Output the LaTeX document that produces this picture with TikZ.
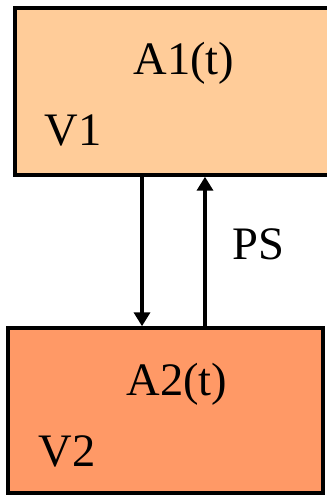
\documentclass[tikz,border=0pt]{standalone}
\usepackage{fontspec}
\setmainfont{Liberation Serif}[Ligatures=TeX]
\usetikzlibrary{arrows.meta}
\definecolor{peach}{HTML}{FFCC99}
\definecolor{salmon}{HTML}{FF9966}
\begin{document}
\begin{tikzpicture}[x=0.02cm, y=-0.02cm, every node/.style={font=\rmfamily\fontsize{26.5}{30}\selectfont}]
  \tikzstyle{block}=[draw,line width=2pt,inner sep=0pt]
  \tikzstyle{lbl}=[anchor=base,inner sep=0pt]
  \tikzstyle{flow}=[line width=2pt,-{Triangle[length=0.28cm,width=0.32cm]}]
  \path[use as bounding box] (0,0) rectangle (327,495);
  \clip (0,0) rectangle (327,495);
  \node[block,fill=peach,minimum width=6.6cm,minimum height=3.34cm] (a1box) at (180,91.5) {};
  \node[block,fill=salmon,minimum width=6.3cm,minimum height=3.3cm] (a2box) at (165.5,410.5) {};
  \node[lbl] (a1) at (184,74) {A1(t)};
  \node[lbl] (v1) at (73,145) {V1};
  \node[lbl] (a2) at (177,395) {A2(t)};
  \node[lbl] (v2) at (67,466) {V2};
  \draw[flow] ([xshift=-0.76cm]a1box.south) -- ([xshift=-0.76cm]a1box.south |- a2box.north);
  \draw[flow] ([xshift=0.5cm]a1box.south |- a2box.north) -- ([xshift=0.5cm]a1box.south) node[pos=0.55,right=0.52cm,inner sep=0pt] (ps) {PS};
\end{tikzpicture}
\end{document}
